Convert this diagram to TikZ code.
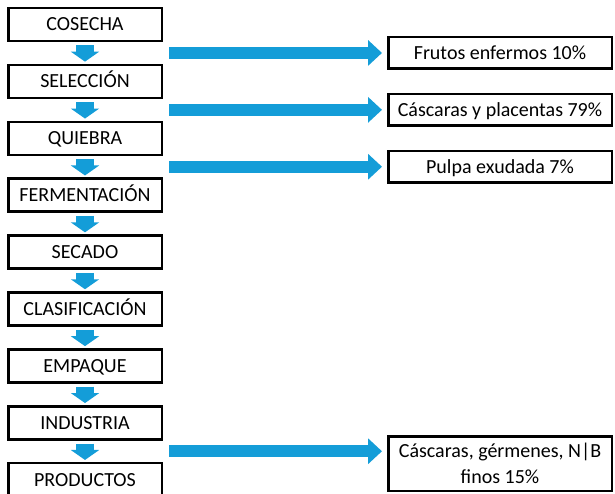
\documentclass[tikz,border=0pt]{standalone}
\usepackage{fontspec}
\setmainfont{Carlito}
\usetikzlibrary{positioning,calc,arrows.meta}
\definecolor{flecha}{RGB}{20,157,216}

\begin{document}
\begin{tikzpicture}[x=1pt, y=-1pt, line join=miter,
    caja/.style={draw, line width=2.5pt, inner sep=0pt, font=\fontsize{20}{26}\selectfont},
    paso/.style={caja, minimum width=153.5pt, minimum height=33pt,
      text height=13pt, text depth=0pt},
    residuo/.style={paso, minimum width=223.5pt, minimum height=31.5pt},
    bajar/.style={flecha, line width=18pt, -{Triangle[width=28pt,length=10pt]},
      shorten <=3pt, shorten >=2pt},
    salida/.style={flecha, line width=12pt, -{Triangle[width=25pt,length=14pt]},
      shorten >=5pt},
    node distance=21.4pt]
    \useasboundingbox (0,0) rectangle (615,494);
    \clip (0,0) rectangle (615,494);

    % etapas del proceso
    \node[paso] (cosecha) at (85,24.5) {COSECHA};
    \node[paso, below=of cosecha] (seleccion) {SELECCIÓN};
    \node[paso, below=of seleccion] (quiebra) {QUIEBRA};
    \node[paso, below=of quiebra] (fermentacion) {FERMENTACIÓN};
    \node[paso, below=of fermentacion] (secado) {SECADO};
    \node[paso, below=of secado] (clasificacion) {CLASIFICACIÓN};
    \node[paso, below=of clasificacion] (empaque) {EMPAQUE};
    \node[paso, below=of empaque] (industria) {INDUSTRIA};
    \node[paso, below=of industria] (productos) {PRODUCTOS};

    \draw[bajar] (cosecha) -- (seleccion);
    \draw[bajar] (seleccion) -- (quiebra);
    \draw[bajar] (quiebra) -- (fermentacion);
    \draw[bajar] (fermentacion) -- (secado);
    \draw[bajar] (secado) -- (clasificacion);
    \draw[bajar] (clasificacion) -- (empaque);
    \draw[bajar] (empaque) -- (industria);
    \draw[bajar] (industria) -- (productos);

    % salidas de residuos
    \coordinate (g1) at ($(cosecha.south east)!0.5!(seleccion.north east)+(6,0)$);
    \coordinate (g2) at ($(seleccion.south east)!0.5!(quiebra.north east)+(6,0)$);
    \coordinate (g3) at ($(quiebra.south east)!0.5!(fermentacion.north east)+(6,0)$);
    \coordinate (g4) at ($(industria.south east)!0.5!(productos.north east)+(6,0)$);

    \node[residuo] (frutos) at (500,0 |- g1) {Frutos enfermos 10\%};
    \node[residuo] (placentas) at (500,0 |- g2) {Cáscaras y placentas 79\%};
    \node[residuo] (pulpa) at (500,0 |- g3) {Pulpa exudada 7\%};
    \node[caja, minimum width=223.5pt, minimum height=54.5pt, align=center]
      (finos) at (500,463.5) {Cáscaras, gérmenes, N|B\\finos 15\%};

    \draw[salida] (g1) -- (frutos);
    \draw[salida] (g2) -- (placentas);
    \draw[salida] (g3) -- (pulpa);
    \draw[salida] (g4) -- (g4 -| finos.west);
  \end{tikzpicture}
\end{document}
